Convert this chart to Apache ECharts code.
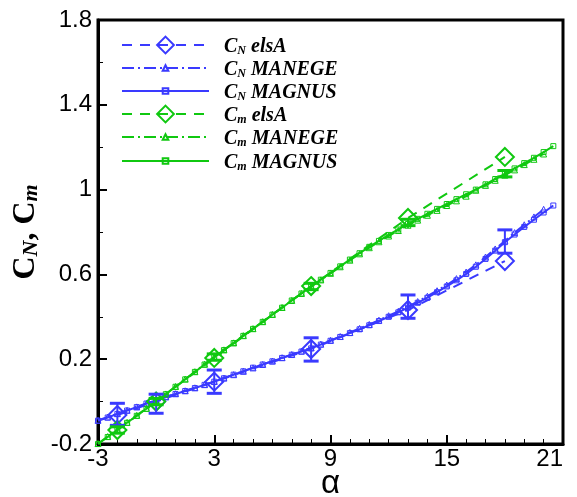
<!DOCTYPE html>
<html><head><meta charset="utf-8">
<script src="https://cdn.jsdelivr.net/npm/echarts@6/dist/echarts.min.js"></script>
<style>html,body{margin:0;padding:0;background:#fff}#c{width:577px;height:497px}</style>
</head><body><div id="c"></div>
<script>
// ---- data ----
const alphaMagnus = [-3,-2.5,-2,-1.5,-1,-0.5,0,0.5,1,1.5,2,2.5,3,3.5,4,4.5,5,5.5,6,6.5,7,7.5,8,8.5,9,9.5,10,10.5,11,11.5,12,12.5,13,13.5,14,14.5,15,15.5,16,16.5,17,17.5,18,18.5,19,19.5,20,20.5];
const cnMagnus = [-0.09,-0.075,-0.058,-0.042,-0.026,-0.009,0.007,0.022,0.036,0.05,0.064,0.079,0.094,0.11,0.127,0.143,0.16,0.175,0.19,0.206,0.221,0.236,0.251,0.269,0.287,0.305,0.323,0.341,0.36,0.38,0.4,0.421,0.443,0.466,0.49,0.516,0.543,0.572,0.602,0.636,0.673,0.712,0.752,0.788,0.824,0.858,0.892,0.925];
const cmMagnus = [-0.2,-0.167,-0.134,-0.1,-0.067,-0.034,0.0,0.035,0.07,0.105,0.14,0.175,0.21,0.243,0.276,0.31,0.343,0.376,0.41,0.443,0.477,0.51,0.543,0.575,0.607,0.638,0.67,0.7,0.73,0.758,0.786,0.812,0.838,0.862,0.886,0.909,0.932,0.955,0.978,1.0,1.025,1.05,1.074,1.1,1.125,1.15,1.177,1.205];
const alphaManege = [-3,-2.5,-2,-1.5,-1,-0.5,0,0.5,1,1.5,2,2.5,3,3.5,4,4.5,5,5.5,6,6.5,7,7.5,8,8.5,9,9.5,10,10.5,11,11.5,12,12.5,13,13.5,14,14.5,15,15.5,16,16.5,17,17.5,18,18.5,19,19.5,20];
const cnManege = [-0.088,-0.073,-0.057,-0.041,-0.025,-0.009,0.007,0.022,0.037,0.051,0.065,0.08,0.095,0.111,0.127,0.143,0.159,0.175,0.191,0.207,0.222,0.238,0.254,0.271,0.289,0.307,0.326,0.345,0.364,0.384,0.405,0.426,0.449,0.472,0.497,0.523,0.55,0.58,0.611,0.645,0.682,0.72,0.758,0.797,0.834,0.871,0.907];
const cmManege = [-0.198,-0.165,-0.132,-0.098,-0.065,-0.032,0.002,0.036,0.071,0.106,0.141,0.176,0.21,0.244,0.277,0.311,0.344,0.377,0.411,0.444,0.477,0.51,0.542,0.574,0.605,0.636,0.667,0.697,0.726,0.754,0.781,0.807,0.832,0.856,0.879,0.902,0.925,0.947,0.969,0.997,1.02,1.044,1.068,1.093,1.118,1.143,1.168];
const alphaElsA = [-2, 0, 3, 8, 13, 18];
const cnElsA = [-0.063, 0.0, 0.094, 0.248, 0.432, 0.663];
const cmElsA = [-0.134, 0.0, 0.206, 0.545, 0.866, 1.154];
const cnErrCenter = [-0.06, -0.01, 0.094, 0.246, 0.448, 0.755];
const cnErrHalf = [0.052, 0.045, 0.055, 0.055, 0.055, 0.055];
const cmErrCenter = [-0.134, 0.0, 0.21, 0.543, 0.845, 1.075];
const cmErrHalf = [0.015, 0.015, 0.015, 0.015, 0.015, 0.015];
const xMajorTicks = [-3, 3, 9, 15, 21];
const yMajorTicks = [-0.2, 0.2, 0.6, 1, 1.4, 1.8];
const seriesNames = ['CN elsA','CN MANEGE','CN MAGNUS','Cm elsA','Cm MANEGE','Cm MAGNUS'];

// ---- styling ----
const BLUE = '#3a3aff', GREEN = '#10c810';
const SERIF = 'Liberation Serif', SANS = 'Liberation Sans';
const pairs = (xs, ys) => xs.map((x, i) => [x, ys[i]]);

function errRender(color) {
  return function (params, api) {
    const x = api.value(0), lo = api.value(1), hi = api.value(2);
    const a = api.coord([x, lo]), b = api.coord([x, hi]);
    const hw = 7.5;
    return { type: 'group', children: [
      { type: 'line', shape: { x1: a[0], y1: a[1], x2: b[0], y2: b[1] }, style: { stroke: color, lineWidth: 2 } },
      { type: 'line', shape: { x1: a[0] - hw, y1: a[1], x2: a[0] + hw, y2: a[1] }, style: { stroke: color, lineWidth: 3 } },
      { type: 'line', shape: { x1: b[0] - hw, y1: b[1], x2: b[0] + hw, y2: b[1] }, style: { stroke: color, lineWidth: 3 } }
    ]};
  };
}

function lineSeries(name, xs, ys, color, kind) {
  const s = { name, type: 'line', data: pairs(xs, ys), animation: false, emphasis: { disabled: true },
    lineStyle: { color, width: 2 }, itemStyle: { color: 'none', borderColor: color, borderWidth: 1 }, z: 3 };
  if (kind === 'elsA') { s.symbol = 'diamond'; s.symbolSize = 18; s.lineStyle.type = [10, 8]; s.itemStyle.borderWidth = 2; s.z = 4; }
  else if (kind === 'MANEGE') { s.symbol = 'triangle'; s.symbolSize = 6; s.lineStyle.type = [12, 4, 2, 4]; }
  else { s.symbol = 'rect'; s.symbolSize = 5; s.lineStyle.type = 'solid'; }
  return s;
}

const rich = {
  c: { fontFamily: SERIF, fontWeight: 'bold', fontStyle: 'italic', fontSize: 20, lineHeight: 20, verticalAlign: 'top', color: '#000' },
  s: { fontFamily: SERIF, fontWeight: 'bold', fontStyle: 'italic', fontSize: 12, lineHeight: 12, padding: [12, 0, 0, 0], verticalAlign: 'bottom', color: '#000' },
  t: { fontFamily: SERIF, fontWeight: 'bold', fontStyle: 'italic', fontSize: 20, lineHeight: 20, verticalAlign: 'top', color: '#000' }
};
function legendFmt(name) {
  const parts = name.split(' ');
  return '{c|C}{s|' + parts[0].slice(1) + '}{t| ' + parts[1] + '}';
}

const legends = seriesNames.map((n, i) => ({
  data: [n], left: 121, top: Math.round(46 + 23.2 * i - 13.5), orient: 'vertical',
  itemWidth: 87, itemHeight: n.indexOf('elsA') >= 0 ? 21 : 7, padding: 0, selectedMode: false,
  formatter: legendFmt, textStyle: { padding: [4, 0, 0, 10], rich }
}));

const chart = echarts.init(document.getElementById('c'), null, { renderer: 'canvas' });
chart.setOption({
  animation: false,
  backgroundColor: '#fff',
  grid: { left: 98, right: 14, top: 20, bottom: 53, outerBoundsMode: 'none', containLabel: false,
          show: true, borderColor: '#000', borderWidth: 3, backgroundColor: 'transparent' },
  legend: legends,
  xAxis: [
    { type: 'value', position: 'bottom', min: -3, max: 21,
      name: 'α', nameLocation: 'middle', nameGap: 23, nameMoveOverlap: false,
      nameTextStyle: { fontFamily: SANS, fontSize: 33, color: '#000' },
      axisLine: { show: true, onZero: false, lineStyle: { color: '#000', width: 3 } },
      axisTick: { show: true, inside: true, length: 9, customValues: xMajorTicks, lineStyle: { color: '#000', width: 2 } },
      axisLabel: { customValues: xMajorTicks, fontFamily: SANS, fontSize: 24, color: '#000', margin: 3, alignMaxLabel: 'right' },
      splitLine: { show: false } },
    { type: 'value', position: 'bottom', min: -3, max: 21, interval: 1,
      axisLine: { show: false, onZero: false },
      axisTick: { show: true, inside: true, length: 5, lineStyle: { color: '#000', width: 1 } },
      axisLabel: { show: false }, splitLine: { show: false } }
  ],
  yAxis: [
    { type: 'value', position: 'left', min: -0.2, max: 1.8,
      name: '{c|C}{s|N}{c|, C}{s|m}', nameLocation: 'middle', nameGap: 56, nameMoveOverlap: false,
      nameTextStyle: { color: '#000', rich: {
        c: { fontFamily: SERIF, fontWeight: 'bold', fontSize: 32, lineHeight: 32, verticalAlign: 'top', color: '#000' },
        s: { fontFamily: SERIF, fontWeight: 'bold', fontStyle: 'italic', fontSize: 22, lineHeight: 22, padding: [20, 0, 0, 0], verticalAlign: 'bottom', color: '#000' } } },
      axisLine: { show: true, onZero: false, lineStyle: { color: '#000', width: 3 } },
      axisTick: { show: true, inside: true, length: 9, customValues: yMajorTicks, lineStyle: { color: '#000', width: 2 } },
      axisLabel: { customValues: yMajorTicks, fontFamily: SANS, fontSize: 24, color: '#000', margin: 6 },
      splitLine: { show: false } },
    { type: 'value', position: 'left', min: -0.2, max: 1.8, interval: 0.2,
      axisLine: { show: false, onZero: false },
      axisTick: { show: true, inside: true, length: 5, lineStyle: { color: '#000', width: 1 } },
      axisLabel: { show: false }, splitLine: { show: false } }
  ],
  series: [
    { type: 'custom', name: 'errCN', data: alphaElsA.map((a, i) => [a, cnErrCenter[i] - cnErrHalf[i], cnErrCenter[i] + cnErrHalf[i]]),
      renderItem: errRender(BLUE), encode: { x: 0, y: [1, 2] }, z: 5, silent: true },
    lineSeries('CN elsA', alphaElsA, cnElsA, BLUE, 'elsA'),
    lineSeries('CN MANEGE', alphaManege, cnManege, BLUE, 'MANEGE'),
    lineSeries('CN MAGNUS', alphaMagnus, cnMagnus, BLUE, 'MAGNUS'),
    { type: 'custom', name: 'errCm', data: alphaElsA.map((a, i) => [a, cmErrCenter[i] - cmErrHalf[i], cmErrCenter[i] + cmErrHalf[i]]),
      renderItem: errRender(GREEN), encode: { x: 0, y: [1, 2] }, z: 5, silent: true },
    lineSeries('Cm elsA', alphaElsA, cmElsA, GREEN, 'elsA'),
    lineSeries('Cm MANEGE', alphaManege, cmManege, GREEN, 'MANEGE'),
    lineSeries('Cm MAGNUS', alphaMagnus, cmMagnus, GREEN, 'MAGNUS')
  ]
});
</script></body></html>
